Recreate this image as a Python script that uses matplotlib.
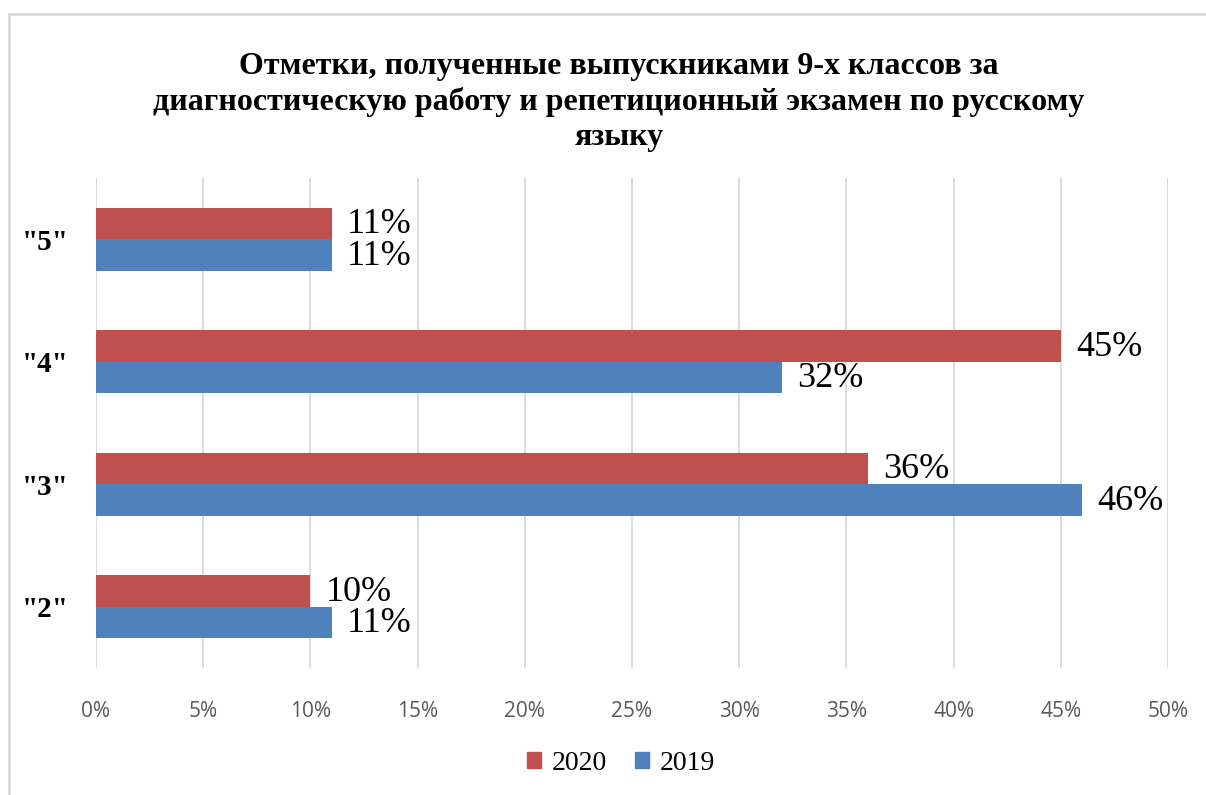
import matplotlib
matplotlib.use("Agg")
import matplotlib.pyplot as plt
from matplotlib.patches import Rectangle, Patch
import numpy as np

categories = ['"2"', '"3"', '"4"', '"5"']
values_2020 = [10, 36, 45, 11]
values_2019 = [11, 46, 32, 11]
labels_2020 = ["10%", "36%", "45%", "11%"]
labels_2019 = ["11%", "46%", "32%", "11%"]
xticks = [0, 5, 10, 15, 20, 25, 30, 35, 40, 45, 50]
xticklabels = [f"{t}%" for t in xticks]
title = ("Отметки, полученные выпускниками 9-х классов за\n"
         "диагностическую работу и репетиционный экзамен по русскому\n"
         "языку")

c2020 = "#C0504D"
c2019 = "#4F81BD"
serif = "Liberation Serif"

W, H = 1206, 795
fig = plt.figure(figsize=(W / 100, H / 100), dpi=100)

# outer chart frame (cropped screenshot)
fig.patches.append(Rectangle((9 / W, -0.1), 1.2, 1 - 14 / H + 0.1,
                             transform=fig.transFigure, fill=False,
                             edgecolor="#d9d9d9", linewidth=2))

ax = fig.add_axes([96 / W, 1 - 668 / H, (1168 - 96) / W, (668 - 178) / H])

y = np.arange(len(categories))
h = 0.256
ax.barh(y + h / 2, values_2020, height=h, color=c2020, zorder=3)
ax.barh(y - h / 2, values_2019, height=h, color=c2019, zorder=3)

for yi, v, lab in zip(y, values_2020, labels_2020):
    ax.annotate(lab, (v, yi + h / 2), xytext=(11, -1), textcoords="offset points",
                va="center", ha="left", fontsize=26, family=serif)
for yi, v, lab in zip(y, values_2019, labels_2019):
    ax.annotate(lab, (v, yi - h / 2), xytext=(11, -1), textcoords="offset points",
                va="center", ha="left", fontsize=26, family=serif)

ax.set_xlim(0, 50)
ax.set_ylim(-0.5, 3.5)
ax.set_xticks(xticks)
ax.set_xticklabels(xticklabels, fontsize=15, color="#595959", family="Open Sans")
ax.set_yticks(y)
ax.set_yticklabels(categories, fontsize=21, fontweight="bold", family=serif)
ax.tick_params(axis="both", length=0)
ax.tick_params(axis="x", pad=24)
ax.tick_params(axis="y", pad=20)
ax.grid(axis="x", color="#d9d9d9", linewidth=1.3, zorder=0)
for s in ax.spines.values():
    s.set_visible(False)

fig.text(619 / W, 1 - 102 / H, title, ha="center", va="center",
         fontsize=23, fontweight="bold", family=serif, linespacing=1.28)

handles = [Patch(color=c2020, label="2020"), Patch(color=c2019, label="2019")]
fig.legend(handles=handles, loc="center", bbox_to_anchor=(621 / W, 1 - 763 / H),
           ncol=2, frameon=False, prop={"family": serif, "size": 20},
           handlelength=0.5, handleheight=0.5, handletextpad=0.4, columnspacing=1.0)

fig.savefig("out.png", dpi=100)
